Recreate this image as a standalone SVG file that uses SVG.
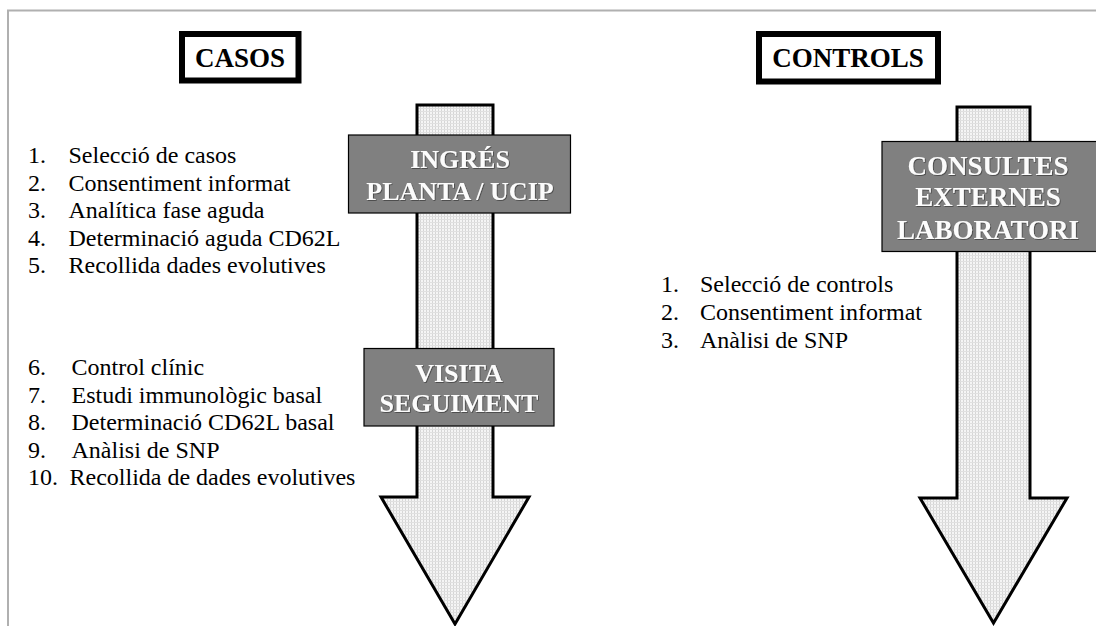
<svg xmlns="http://www.w3.org/2000/svg" width="1096" height="626" viewBox="0 0 1096 626">
<defs>
<pattern id="dots" x="0" y="0" width="3" height="3" patternUnits="userSpaceOnUse">
<rect width="3" height="3" fill="#f5f5f5"/>
<rect x="0" y="0" width="1" height="3" fill="#d6d6d6"/>
<rect x="0" y="0" width="3" height="1" fill="#e0e0e0"/>
</pattern>
<filter id="emb" x="-5%" y="-5%" width="110%" height="120%">
<feDropShadow dx="0.8" dy="0.8" stdDeviation="0.3" flood-color="#3a3a3a" flood-opacity="0.9"/>
</filter>
</defs>
<style>
.frame{stroke:#b0b0b0;stroke-width:2;fill:none}
.title{fill:#fff;stroke:#000;stroke-width:6}
.ttxt{font-weight:bold;font-size:27px;fill:#000;text-anchor:middle}
.arrow{fill:url(#dots);stroke:#000;stroke-width:3;stroke-linejoin:miter}
.gbox{fill:#808080;stroke:#000;stroke-width:1.2}
.gtxt{font-weight:bold;font-size:26px;fill:#fcfcfc;text-anchor:middle;filter:url(#emb)}
.list{font-size:24px;fill:#000}
</style>
<rect width="1096" height="626" fill="#fff"/>
<path class="frame" d="M8,626 L8,10.5 L1096,10.5"/>

<g id="flow-arrows">
<path id="arrow-casos" class="arrow" d="M417,105 L493,105 L493,497 L529,497 L455,624 L381,497 L417,497 Z"/>
<path id="arrow-controls" class="arrow" d="M957,107 L1030,107 L1030,498 L1067,498 L993.5,623 L920,498 L957,498 Z"/>
</g>

<g font-family="Liberation Serif, Tinos, Times New Roman, DejaVu Serif, serif">
<g id="title-casos">
<rect class="title" x="182" y="34" width="116.5" height="46.5"/>
<text class="ttxt" x="240" y="67">CASOS</text>
</g>

<g id="title-controls">
<rect class="title" x="759" y="34" width="179" height="47.5"/>
<text class="ttxt" x="848" y="67">CONTROLS</text>
</g>

<g id="node-ingres">
<rect class="gbox" x="348.5" y="135" width="222" height="78"/>
<text class="gtxt" x="460" y="168">INGRÉS</text>
<text class="gtxt" x="460" y="200">PLANTA / UCIP</text>
</g>

<g id="node-visita">
<rect class="gbox" x="364" y="348.5" width="190" height="77.5"/>
<text class="gtxt" x="459" y="382">VISITA</text>
<text class="gtxt" x="459" y="412">SEGUIMENT</text>
</g>

<g id="node-consultes">
<rect class="gbox" x="882" y="141.5" width="216" height="110"/>
<text class="gtxt" x="988" y="175" style="font-size:27px">CONSULTES</text>
<text class="gtxt" x="988" y="206" style="font-size:27px">EXTERNES</text>
<text class="gtxt" x="988" y="239" style="font-size:27px">LABORATORI</text>
</g>

<g id="list-casos-ingres" class="list">
<text x="28" y="163">1.</text><text x="68.5" y="163">Selecció de casos</text>
<text x="28" y="190.5">2.</text><text x="68.5" y="190.5">Consentiment informat</text>
<text x="28" y="218">3.</text><text x="68.5" y="218">Analítica fase aguda</text>
<text x="28" y="245.5">4.</text><text x="68.5" y="245.5">Determinació aguda CD62L</text>
<text x="28" y="273">5.</text><text x="68.5" y="273">Recollida dades evolutives</text>
</g>

<g id="list-casos-visita" class="list">
<text x="28" y="375">6.</text><text x="71.5" y="375">Control clínic</text>
<text x="28" y="402.5">7.</text><text x="71.5" y="402.5">Estudi immunològic basal</text>
<text x="28" y="430">8.</text><text x="71.5" y="430">Determinació CD62L basal</text>
<text x="28" y="457.5">9.</text><text x="71.5" y="457.5">Anàlisi de SNP</text>
<text x="28" y="485">10.</text><text x="69.5" y="485">Recollida de dades evolutives</text>
</g>

<g id="list-controls" class="list">
<text x="661" y="292">1.</text><text x="700" y="292">Selecció de controls</text>
<text x="661" y="320">2.</text><text x="700" y="320">Consentiment informat</text>
<text x="661" y="348">3.</text><text x="700" y="348">Anàlisi de SNP</text>
</g>
</g>
</svg>
